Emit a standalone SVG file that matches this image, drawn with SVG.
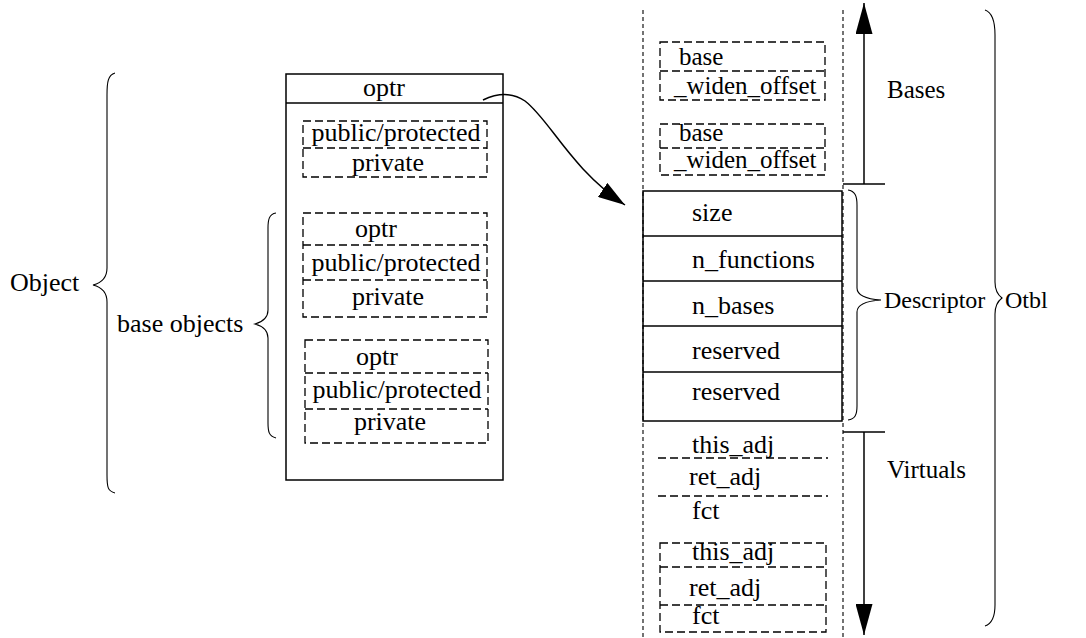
<svg xmlns="http://www.w3.org/2000/svg" width="1086" height="638" viewBox="0 0 1086 638">
<style>
text{font-family:"Liberation Serif","Times New Roman",serif;font-size:26px;fill:#000}
.m{text-anchor:middle}
.s{font-size:25px}
.box{fill:none;stroke:#000;stroke-width:1.5}
.dash{fill:none;stroke:#000;stroke-width:1.3;stroke-dasharray:8 4}
.dot{fill:none;stroke:#000;stroke-width:1.1;stroke-dasharray:4 3}
.br{fill:none;stroke:#000;stroke-width:1.1}
.ln{fill:none;stroke:#000;stroke-width:1.5}
</style>
<defs>
<marker id="ah" viewBox="0 0 27 17" refX="27" refY="8.5" markerWidth="27" markerHeight="17" markerUnits="userSpaceOnUse" orient="auto">
<path d="M0,0 L27,8.5 L0,17 z" fill="#000"/>
</marker>
<marker id="ahv" viewBox="0 0 31 17" refX="31" refY="8.5" markerWidth="31" markerHeight="17" markerUnits="userSpaceOnUse" orient="auto">
<path d="M0,0 L31,8.5 L0,17 z" fill="#000"/>
</marker>
</defs>

<g id="object">
<rect class="box" x="286" y="74" width="217" height="406"/>
<line class="box" x1="286" y1="103" x2="503" y2="103"/>
<text class="m" x="384" y="96">optr</text>
</g>

<g id="own-members">
<rect class="dash" x="303" y="121" width="184" height="56"/>
<line class="dash" x1="303" y1="148" x2="487" y2="148"/>
<text class="m" x="396" y="141">public/protected</text>
<text class="m" x="388" y="171">private</text>
</g>

<g id="base-object-1">
<rect class="dash" x="303" y="213" width="184" height="104"/>
<line class="dash" x1="303" y1="245" x2="487" y2="245"/>
<line class="dash" x1="303" y1="280" x2="487" y2="280"/>
<text class="m" x="376" y="237">optr</text>
<text class="m" x="396" y="271">public/protected</text>
<text class="m" x="388" y="305">private</text>
</g>

<g id="base-object-2">
<rect class="dash" x="305" y="340" width="183" height="103"/>
<line class="dash" x1="305" y1="373" x2="488" y2="373"/>
<line class="dash" x1="305" y1="409" x2="488" y2="409"/>
<text class="m" x="377" y="365">optr</text>
<text class="m" x="397" y="398">public/protected</text>
<text class="m" x="390" y="430">private</text>
</g>

<g id="object-brace">
<path class="br" d="M115,73 C108,75 107,82 107,95 L107,268 C107,278 101,283 93,285 C101,287 107,292 107,302 L107,475 C107,488 108,491 115,493"/>
<text x="10" y="291">Object</text>
</g>

<g id="base-objects-brace">
<path class="br" d="M276,213 C269,214 268,220 268,228 L268,310 C268,318 262,322 255,324 C262,326 268,330 268,338 L268,423 C268,432 269,436 276,438"/>
<text x="117" y="332">base objects</text>
</g>

<g id="otbl-frame">
<line class="dot" x1="643" y1="10" x2="643" y2="638"/>
<line class="dot" x1="843" y1="10" x2="843" y2="638"/>
</g>

<g id="base-entry-1">
<rect class="dash" x="660" y="42" width="165" height="58"/>
<line class="dash" x1="660" y1="71" x2="825" y2="71"/>
<text class="s" x="679" y="65">base</text>
<text class="s" x="674" y="94">_widen_offset</text>
</g>

<g id="base-entry-2">
<rect class="dash" x="660" y="124" width="165" height="51"/>
<line class="dash" x1="660" y1="148" x2="825" y2="148"/>
<text class="s" x="679" y="141">base</text>
<text class="s" x="674" y="168">_widen_offset</text>
</g>

<g id="descriptor">
<rect class="box" x="643" y="191" width="199" height="230"/>
<line class="box" x1="643" y1="236" x2="842" y2="236"/>
<line class="box" x1="643" y1="281" x2="842" y2="281"/>
<line class="box" x1="643" y1="326" x2="842" y2="326"/>
<line class="box" x1="643" y1="372" x2="842" y2="372"/>
<text x="692" y="221">size</text>
<text x="692" y="268">n_functions</text>
<text x="692" y="314">n_bases</text>
<text x="692" y="359">reserved</text>
<text x="692" y="400">reserved</text>
</g>

<g id="virtual-entry-1">
<line class="dash" x1="658" y1="458" x2="828" y2="458"/>
<line class="dash" x1="658" y1="496" x2="828" y2="496"/>
<text x="692" y="453">this_adj</text>
<text x="689" y="485">ret_adj</text>
<text x="692" y="519">fct</text>
</g>

<g id="virtual-entry-2">
<rect class="dash" x="660" y="543" width="166" height="89"/>
<line class="dash" x1="660" y1="567" x2="826" y2="567"/>
<line class="dash" x1="660" y1="605" x2="826" y2="605"/>
<text x="692" y="560">this_adj</text>
<text x="689" y="596">ret_adj</text>
<text x="692" y="624">fct</text>
</g>

<g id="bases-range">
<line class="ln" x1="843" y1="184" x2="885" y2="184"/>
<text class="s" x="887" y="98">Bases</text>
</g>

<g id="descriptor-brace">
<path class="br" d="M848,190 C855,191 857,196 857,205 L857,288 C857,296 866,299 881,300 C866,301 857,304 857,312 L857,406 C857,415 855,419 848,420"/>
<text x="884" y="308" style="font-size:24px">Descriptor</text>
</g>

<g id="virtuals-range">
<line class="ln" x1="843" y1="432" x2="885" y2="432"/>
<text class="s" x="887" y="478">Virtuals</text>
</g>

<g id="otbl-brace">
<path class="br" d="M985,10 C991,12 995,20 995,35 L995,282 C995,291 998,295 1002,298 C998,301 995,305 995,314 L995,605 C995,617 991,624 985,626"/>
<text x="1005" y="308" style="font-size:24px">Otbl</text>
</g>

<g id="connectors">
<line class="ln" x1="864" y1="184" x2="864" y2="3" marker-end="url(#ahv)"/>
<line class="ln" x1="864" y1="432" x2="864" y2="635" marker-end="url(#ahv)"/>
<path class="ln" d="M483,100 C498,93 512,92 525,101 C550,120 570,168 625,205" marker-end="url(#ah)"/>
</g>
</svg>
